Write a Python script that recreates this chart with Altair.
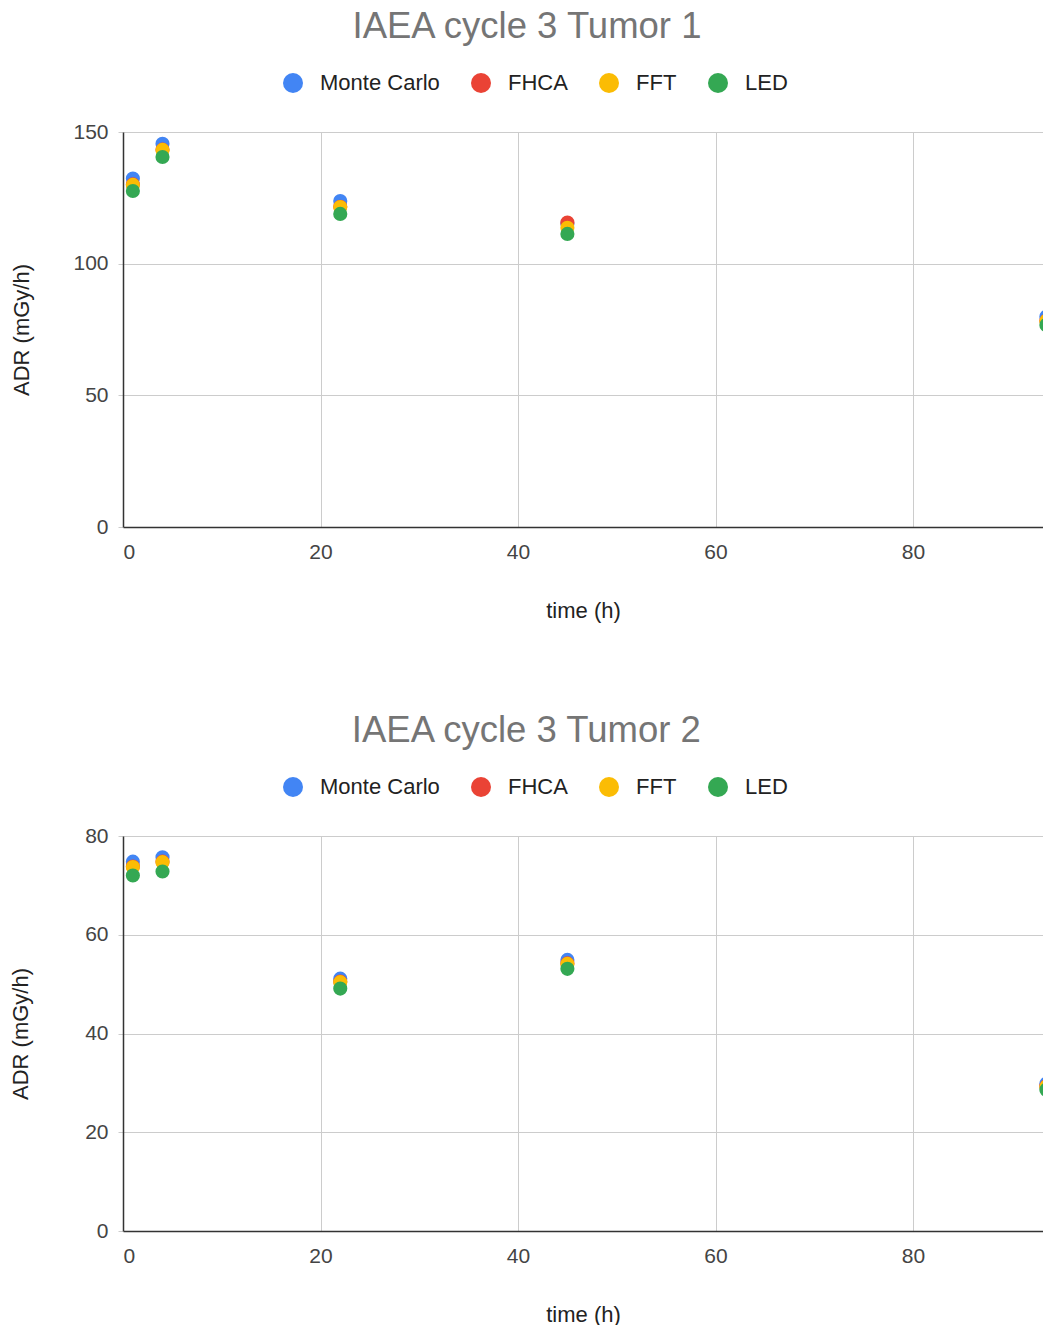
import altair as alt
import pandas as pd

series = ["Monte Carlo", "FHCA", "FFT", "LED"]
colors = ["#4285F4", "#EA4335", "#FBBC04", "#34A853"]
time_h = [1, 4, 22, 45, 93.5]

t1_mc = [132.3, 145.5, 123.8, 115.2, 79.8]
t1_fhca = [130.1, 143.3, 121.6, 115.6, 78.3]
t1_fft = [129.9, 143.2, 121.5, 113.6, 78.2]
t1_led = [127.6, 140.5, 118.9, 111.3, 76.7]

t2_mc = [74.8, 75.7, 51.1, 54.9, 29.8]
t2_fhca = [73.8, 74.8, 50.5, 54.2, 29.3]
t2_fft = [73.7, 74.7, 50.4, 54.1, 29.2]
t2_led = [72.0, 72.8, 49.1, 53.1, 28.6]

x_ticks = [0, 20, 40, 60, 80]
y1_ticks = [0, 50, 100, 150]
y2_ticks = [0, 20, 40, 60, 80]

FONT = "Liberation Sans"
PLOT_W = 920
X_MAX = 93.16


def build_df(values):
    rows = []
    for si, (name, vals) in enumerate(zip(series, values)):
        for t, v in zip(time_h, vals):
            rows.append({"t": t, "v": v, "series": name, "idx": si})
    return pd.DataFrame(rows)


def panel(title, df, ymax, yticks, ytitle_pad):
    return alt.Chart(df).mark_circle(size=200, opacity=1, clip=True).encode(
        x=alt.X("t:Q",
                scale=alt.Scale(domain=[0, X_MAX], nice=False, zero=True),
                axis=alt.Axis(values=x_ticks, title="time (h)", ticks=False,
                              labelPadding=14, titlePadding=38)),
        y=alt.Y("v:Q",
                scale=alt.Scale(domain=[0, ymax], nice=False),
                axis=alt.Axis(values=yticks, title="ADR (mGy/h)", tickSize=5,
                              tickColor="#cccccc", labelPadding=10,
                              titlePadding=ytitle_pad)),
        color=alt.Color("series:N",
                        scale=alt.Scale(domain=series, range=colors),
                        legend=alt.Legend(orient="none", legendX=159, legendY=-60,
                                          direction="horizontal",
                                          title=None, symbolType="circle",
                                          symbolSize=400, symbolStrokeWidth=0,
                                          labelFontSize=22, labelColor="#222222",
                                          labelFont=FONT, labelOffset=16,
                                          columnPadding=30, padding=0)),
        order=alt.Order("idx:Q"),
    ).properties(
        width=PLOT_W, height=395,
        title=alt.TitleParams(title, fontSize=36.5, color="#757575", font=FONT,
                              fontWeight="normal", anchor="middle", frame="bounds",
                              offset=27),
    )


c1 = panel("IAEA cycle 3 Tumor 1", build_df([t1_mc, t1_fhca, t1_fft, t1_led]), 150, y1_ticks, 39)
c2 = panel("IAEA cycle 3 Tumor 2", build_df([t2_mc, t2_fhca, t2_fft, t2_led]), 80, y2_ticks, 52)

chart = alt.vconcat(c1, c2, spacing=91).resolve_scale(color="independent").resolve_legend(
    color="independent"
).properties(
    padding={"left": 1, "top": 0, "right": 0, "bottom": 0}
).configure_view(stroke=None).configure_axis(
    labelFont=FONT, titleFont=FONT, labelFontSize=21, titleFontSize=22,
    labelColor="#444444", titleColor="#222222", titleFontWeight="normal",
    gridColor="#cccccc", gridWidth=1, domainColor="#333333", domainWidth=1.5,
)

chart.save("out.html", embed_options={"renderer": "svg", "actions": False})
